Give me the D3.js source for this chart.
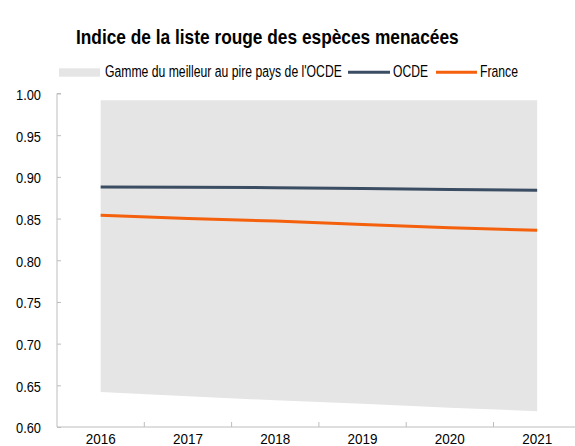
<!DOCTYPE html>
<html>
<head>
<meta charset="utf-8">
<script src="https://cdn.jsdelivr.net/npm/d3@7"></script>
<style>
  body { margin: 0; background: #fff; }
  svg text { font-family: "Liberation Sans Narrow", "Arial Narrow", "Liberation Sans", Arial, sans-serif; fill: #000; }
</style>
</head>
<body>
<svg id="chart"></svg>
<script>
(function () {
    const width = 575;
    const height = 446;

    const years = ["2016", "2017", "2018", "2019", "2020", "2021"];
    const ocde = [0.888, 0.8875, 0.887, 0.886, 0.885, 0.884];
    const france = [0.854, 0.850, 0.847, 0.843, 0.839, 0.836];
    const rangeMax = [0.992, 0.992, 0.992, 0.992, 0.992, 0.992];
    const rangeMin = [0.642, 0.637, 0.632, 0.628, 0.623, 0.619];
    const yTicks = [0.60, 0.65, 0.70, 0.75, 0.80, 0.85, 0.90, 0.95, 1.00];

    const margin = { left: 57, top: 93.5, bottom: 427 };

    const svg = d3.select("#chart")
        .attr("width", width)
        .attr("height", height);

    // squeeze a text horizontally so it takes w pixels (no narrow font installed)
    function narrowText(g, x, y, w, size, str, bold) {
        const t = g.append("text")
            .attr("font-size", size)
            .attr("font-weight", bold ? "bold" : null)
            .text(str);
        const natural = t.node().getComputedTextLength();
        t.attr("transform", `translate(${x},${y}) scale(${w / natural},1)`);
        return t;
    }

    const x = d3.scaleBand()
        .domain(years)
        .range([margin.left, margin.left + 6 * 87.3]);

    const y = d3.scaleLinear()
        .domain([0.6, 1.0])
        .range([margin.bottom, margin.top]);

    const cx = d => x(d) + x.bandwidth() / 2;

    // range area (best to worst OECD country)
    const area = d3.area()
        .x((d, i) => cx(years[i]))
        .y0((d, i) => y(rangeMin[i]))
        .y1(d => y(d));

    svg.append("path")
        .datum(rangeMax)
        .attr("d", area)
        .attr("fill", "#e5e5e5");

    // y axis, ticks pointing inward
    const yAxis = svg.append("g")
        .attr("transform", `translate(${margin.left},0)`)
        .call(d3.axisRight(y).tickValues(yTicks).tickSize(4).tickFormat(d3.format(".2f")));
    yAxis.select(".domain").attr("stroke", "#bdbdbd").attr("d", `M4,${y(1)}H0V${y(0.6)}`);
    yAxis.selectAll(".tick line").attr("stroke", "#bdbdbd");
    yAxis.selectAll(".tick text")
        .attr("x", -16)
        .attr("dy", "0.4em")
        .attr("text-anchor", "end")
        .attr("font-size", 14.5)
        .attr("textLength", 25)
        .attr("lengthAdjust", "spacingAndGlyphs");

    // x axis
    const xAxis = svg.append("g")
        .attr("transform", `translate(0,${margin.bottom})`)
        .call(d3.axisBottom(x).tickSize(0));
    xAxis.select(".domain").attr("stroke", "#bdbdbd").attr("d", `M${margin.left},0H${width}`);
    xAxis.selectAll(".tick text")
        .attr("y", 17)
        .attr("dy", null)
        .attr("font-size", 15)
        .attr("textLength", 30)
        .attr("lengthAdjust", "spacingAndGlyphs");

    xAxis.selectAll(".sep")
        .data(years.slice(1))
        .enter()
        .append("line")
        .attr("class", "sep")
        .attr("x1", d => x(d))
        .attr("x2", d => x(d))
        .attr("y1", 0)
        .attr("y2", -5)
        .attr("stroke", "#bdbdbd");

    // lines
    const line = d3.line()
        .x((d, i) => cx(years[i]))
        .y(d => y(d));

    svg.append("path")
        .datum(ocde)
        .attr("d", line)
        .attr("fill", "none")
        .attr("stroke", "#3b4d63")
        .attr("stroke-width", 3);

    svg.append("path")
        .datum(france)
        .attr("d", line)
        .attr("fill", "none")
        .attr("stroke", "#f4600c")
        .attr("stroke-width", 3);

    // title
    narrowText(svg, 76, 43.5, 383, 20, "Indice de la liste rouge des espèces menacées", true);

    // legend
    const lg = svg.append("g");
    lg.append("rect")
        .attr("x", 59).attr("y", 68.3).attr("width", 41).attr("height", 8.4)
        .attr("fill", "#e5e5e5");
    narrowText(lg, 105, 77.3, 237, 16, "Gamme du meilleur au pire pays de l'OCDE");
    lg.append("line")
        .attr("x1", 348).attr("x2", 390).attr("y1", 72.3).attr("y2", 72.3)
        .attr("stroke", "#3b4d63").attr("stroke-width", 3);
    narrowText(lg, 393, 77.3, 35, 16, "OCDE");
    lg.append("line")
        .attr("x1", 436).attr("x2", 477).attr("y1", 72.3).attr("y2", 72.3)
        .attr("stroke", "#f4600c").attr("stroke-width", 3);
    narrowText(lg, 480, 77.3, 38, 16, "France");
})();
</script>
</body>
</html>
